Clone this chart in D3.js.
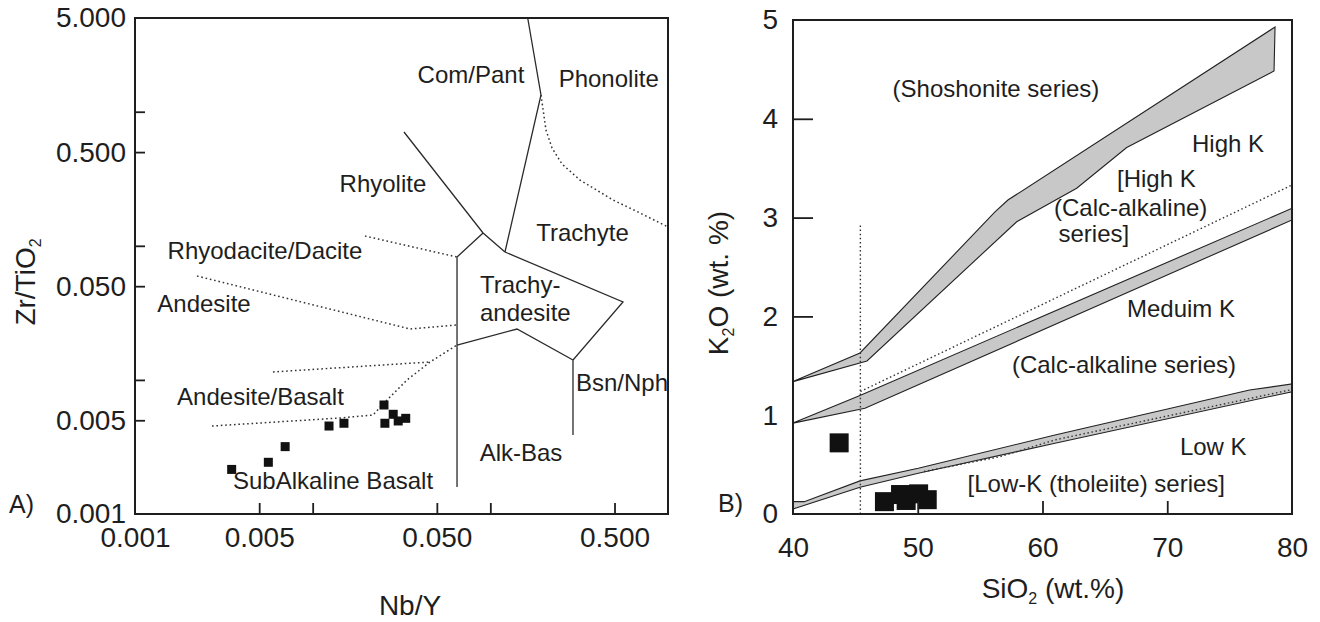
<!DOCTYPE html>
<html>
<head>
<meta charset="utf-8">
<script src="https://cdn.jsdelivr.net/npm/d3@7"></script>
<style>
  html, body { margin: 0; padding: 0; background: #fff; }
  svg { display: block; }
  text { font-family: "Liberation Sans", Arial, Helvetica, sans-serif; fill: #1e1e1e; }
</style>
</head>
<body>
<svg id="chart" width="1320" height="622"></svg>
<script>
// ---------------- Panel A: Zr/TiO2 vs Nb/Y (log–log) ----------------
const nbY    = [0.0035, 0.00563, 0.0070, 0.01236, 0.0150, 0.0252, 0.0255, 0.0284, 0.0303, 0.0334];
const zrTiO2 = [0.00215, 0.00243, 0.00318, 0.00453, 0.00475, 0.0065, 0.00475, 0.00554, 0.00494, 0.00517];

// solid field boundaries [Nb/Y, Zr/TiO2]
const bComPantPhono   = [[0.1623, 5], [0.1928, 1.333], [0.1209, 0.0899]];
const bRhyoComPant    = [[0.03266, 0.706], [0.0910, 0.1246], [0.1209, 0.0899]];
const bTrachyAndWest  = [[0.0910, 0.1246], [0.06494, 0.0825], [0.06494, 0.00159]];
const bTrachyteSouth  = [[0.1209, 0.0899], [0.558, 0.0381], [0.2919, 0.01408], [0.2919, 0.00388]];
const bTrachyAndSouth = [[0.2919, 0.01408], [0.1413, 0.02397], [0.06494, 0.0182]];

// dotted field boundaries
const dPhonoTrachyte  = [[0.1928, 1.333], [0.2057, 0.7306], [0.2224, 0.5365], [0.2532, 0.4074],
                         [0.3197, 0.3095], [0.4902, 0.2196], [0.6960, 0.1757], [1.0, 0.1381]];
const dRhyodacite     = [[0.0197, 0.1183], [0.06494, 0.0825]];
const dAndesite       = [[0.002234, 0.05956], [0.0353, 0.02397], [0.06494, 0.02568]];
const dAndBasaltUpper = [[0.005979, 0.01146], [0.04574, 0.0136]];
const dAndBasaltLower = [[0.002713, 0.00453], [0.01425, 0.0052], [0.02186, 0.005473], [0.0262, 0.00708],
                         [0.03396, 0.00998], [0.04574, 0.0136], [0.06494, 0.0182]];

// field names: [text, Nb/Y, Zr/TiO2, anchor]
const fieldNamesA = [
  ["Com/Pant", 0.0778, 1.629, "middle"],
  ["Phonolite", 0.4637, 1.521, "middle"],
  ["Rhyolite", 0.02487, 0.2533, "middle"],
  ["Rhyodacite/Dacite", 0.00539, 0.0793, "middle"],
  ["Andesite", 0.002446, 0.03193, "middle"],
  ["Trachyte", 0.3302, 0.1092, "middle"],
  ["Trachy-", 0.08744, 0.04424, "start"],
  ["andesite", 0.08744, 0.02764, "start"],
  ["Andesite/Basalt", 0.005086, 0.0065, "middle"],
  ["SubAlkaline Basalt", 0.01302, 0.001528, "middle"],
  ["Bsn/Nph", 0.5508, 0.00831, "middle"],
  ["Alk-Bas", 0.1488, 0.0025, "middle"]
];

const xTicksA  = [0.005, 0.01, 0.05, 0.1, 0.5];
const xLabelsA = [0.001, 0.005, 0.05, 0.5];
const yTicksA  = [1, 0.5, 0.1, 0.05, 0.01, 0.005];
const yLabelsA = [5, 0.5, 0.05, 0.005, 0.001];

// ---------------- Panel B: K2O vs SiO2 ----------------
const sio2 = [43.7, 47.33, 48.62, 49.07, 50.07, 50.76];
const k2o  = [0.72, 0.125, 0.197, 0.137, 0.204, 0.145];

// grey boundary bands: upper edge and lower edge [SiO2, K2O]
const shoUpper = [[40, 1.34], [45.37, 1.63], [56.19, 3.057], [57.23, 3.178], [78.64, 4.929]];
const shoLower = [[40, 1.34], [45.93, 1.549], [57.93, 2.958], [62.74, 3.297], [66.75, 3.709], [78.56, 4.484]];
const medUpper = [[40, 0.92], [45.37, 1.20], [80, 3.094]];
const medLower = [[40, 0.92], [45.77, 1.07], [80, 2.976]];
const lowUpper = [[40, 0.125], [40.9, 0.125], [45.37, 0.335], [50.04, 0.463], [61.0, 0.80], [76.6, 1.255], [80, 1.316]];
const lowLower = [[40, 0.05], [45.37, 0.27], [50.04, 0.412], [61.0, 0.716], [80, 1.238]];

// dotted reference lines
const dHighMed  = [[45.4, 1.24], [80, 3.33]];
const dLowK     = [[50.5, 0.43], [56.6, 0.58], [61.0, 0.75], [80, 1.26]];
const dVertical = [[45.4, 0], [45.4, 2.93]];

// series names: [text, SiO2, K2O, anchor]
const seriesNamesB = [
  ["(Shoshonite series)", 56.27, 4.224, "middle"],
  ["High K", 74.87, 3.667, "middle"],
  ["[High K", 65.97, 3.313, "start"],
  ["(Calc-alkaline)", 60.92, 3.021, "start"],
  ["series]", 61.28, 2.748, "start"],
  ["Meduim K", 71.10, 1.997, "middle"],
  ["(Calc-alkaline series)", 66.53, 1.424, "middle"],
  ["Low K", 73.69, 0.597, "middle"],
  ["[Low-K (tholeiite) series]", 64.31, 0.2257, "middle"]
];

const xTicksB  = [50, 60, 70];
const xLabelsB = [40, 50, 60, 70, 80];
const yTicksB  = [2, 3, 4];
const yLabelsB = [0, 1, 2, 3, 4, 5];

// ---------------- drawing ----------------
const svg = d3.select("#chart");
const INK = "#1e1e1e";

const xA = d3.scaleLog().domain([0.001, 1]).range([135, 668]);
const yA = d3.scaleLog().domain([0.001, 5]).range([514, 18]);
const xB = d3.scaleLinear().domain([40, 80]).range([793, 1292]);
const yB = d3.scaleLinear().domain([0, 5]).range([514, 20]);

function styleAxisText(sel, size) {
  sel.attr("font-family", null).attr("font-size", null);
  sel.select(".domain").remove();
  sel.selectAll("text").style("font-size", size + "px").attr("fill", INK);
}

function drawAxes(g, x, y, xt, xl, yt, yl, fmt, opts) {
  const x0 = x.range()[0], y0 = y.range()[0];
  // inward tick marks
  g.append("g").attr("transform", `translate(0,${y0})`)
    .call(d3.axisBottom(x).tickValues(xt).tickSize(-opts.xTick).tickFormat(""))
    .call(s => { s.select(".domain").remove(); s.selectAll("line").attr("stroke", INK).attr("stroke-width", 1.8); });
  g.append("g").attr("transform", `translate(${x0},0)`)
    .call(d3.axisLeft(y).tickValues(yt).tickSize(-opts.yTick).tickFormat(""))
    .call(s => { s.select(".domain").remove(); s.selectAll("line").attr("stroke", INK).attr("stroke-width", 1.8); });
  // tick labels
  g.append("g").attr("transform", `translate(0,${y0})`)
    .call(d3.axisBottom(x).tickValues(xl).tickSize(0).tickPadding(opts.xPad).tickFormat(fmt))
    .call(s => { styleAxisText(s, 28); s.selectAll("line").remove(); });
  g.append("g").attr("transform", `translate(${x0},0)`)
    .call(d3.axisLeft(y).tickValues(yl).tickSize(0).tickPadding(opts.yPad).tickFormat(fmt))
    .call(s => { styleAxisText(s, 28); s.selectAll("line").remove(); });
  // frame
  const [xa, xb] = x.range(), [ya, yb] = y.range();
  g.append("rect")
    .attr("x", xa).attr("y", yb).attr("width", xb - xa).attr("height", ya - yb)
    .attr("fill", "none").attr("stroke", INK).attr("stroke-width", 2);
}

// ---- Panel A ----
const gA = svg.append("g");
const lineA = d3.line().x(d => xA(d[0])).y(d => yA(d[1]));

[bComPantPhono, bRhyoComPant, bTrachyAndWest, bTrachyteSouth, bTrachyAndSouth].forEach(pts => {
  gA.append("path").attr("d", lineA(pts)).attr("fill", "none")
    .attr("stroke", "#2a2a2a").attr("stroke-width", 1.3).attr("stroke-linejoin", "miter");
});
[dPhonoTrachyte, dRhyodacite, dAndesite, dAndBasaltUpper, dAndBasaltLower].forEach(pts => {
  gA.append("path").attr("d", lineA(pts)).attr("fill", "none")
    .attr("stroke", "#333").attr("stroke-width", 1.5).attr("stroke-dasharray", "1.6,2.8");
});

gA.selectAll("text.field").data(fieldNamesA).join("text")
  .attr("class", "field")
  .attr("x", d => xA(d[1])).attr("y", d => yA(d[2]))
  .attr("text-anchor", d => d[3])
  .style("font-size", "24px")
  .text(d => d[0]);

const sqA = 9;
gA.selectAll("rect.pt").data(d3.range(nbY.length)).join("rect")
  .attr("class", "pt")
  .attr("x", i => xA(nbY[i]) - sqA / 2).attr("y", i => yA(zrTiO2[i]) - sqA / 2)
  .attr("width", sqA).attr("height", sqA).attr("fill", "#111");

drawAxes(gA, xA, yA, xTicksA, xLabelsA, yTicksA, yLabelsA, d3.format(".3f"),
  { xTick: 11, yTick: 10, xPad: 13, yPad: 9 });

// axis titles A
gA.append("text").attr("x", 410).attr("y", 615).attr("text-anchor", "middle")
  .style("font-size", "28px").text("Nb/Y");
const tA = gA.append("text").attr("transform", "translate(35,282) rotate(-90)")
  .attr("text-anchor", "middle").style("font-size", "28px");
tA.append("tspan").text("Zr/TiO");
tA.append("tspan").attr("dy", 6).style("font-size", "16px").text("2");
gA.append("text").attr("x", 9).attr("y", 513).style("font-size", "25px").text("A)");

// ---- Panel B ----
const gB = svg.append("g");
const lineB = d3.line().x(d => xB(d[0])).y(d => yB(d[1]));

[[shoUpper, shoLower], [medUpper, medLower], [lowUpper, lowLower]].forEach(([up, lo]) => {
  const ring = up.concat(lo.slice().reverse());
  gB.append("path").attr("d", lineB(ring) + "Z")
    .attr("fill", "#c8c8c8").attr("stroke", "#222").attr("stroke-width", 1.1)
    .attr("stroke-linejoin", "miter");
});
[dHighMed, dLowK, dVertical].forEach(pts => {
  gB.append("path").attr("d", lineB(pts)).attr("fill", "none")
    .attr("stroke", "#333").attr("stroke-width", 1.4).attr("stroke-dasharray", "1.5,2.6");
});

gB.selectAll("text.series").data(seriesNamesB).join("text")
  .attr("class", "series")
  .attr("x", d => xB(d[1])).attr("y", d => yB(d[2]))
  .attr("text-anchor", d => d[3])
  .style("font-size", "24px")
  .text(d => d[0]);

const sqB = 19;
gB.selectAll("rect.pt").data(d3.range(sio2.length)).join("rect")
  .attr("class", "pt")
  .attr("x", i => xB(sio2[i]) - sqB / 2).attr("y", i => yB(k2o[i]) - sqB / 2)
  .attr("width", sqB).attr("height", sqB).attr("fill", "#111");

drawAxes(gB, xB, yB, xTicksB, xLabelsB, yTicksB, yLabelsB, d3.format("d"),
  { xTick: 13, yTick: 20, xPad: 23, yPad: 15 });

// axis titles B
const tBx = gB.append("text").attr("x", 1053).attr("y", 598).attr("text-anchor", "middle")
  .style("font-size", "28px");
tBx.append("tspan").text("SiO");
tBx.append("tspan").attr("dy", 6).style("font-size", "16px").text("2");
tBx.append("tspan").attr("dy", -6).text(" (wt.%)");
const tBy = gB.append("text").attr("transform", "translate(728,283) rotate(-90)")
  .attr("text-anchor", "middle").style("font-size", "28px");
tBy.append("tspan").text("K");
tBy.append("tspan").attr("dy", 6).style("font-size", "16px").text("2");
tBy.append("tspan").attr("dy", -6).text("O (wt. %)");
gB.append("text").attr("x", 718).attr("y", 512).style("font-size", "25px").text("B)");
</script>
</body>
</html>
